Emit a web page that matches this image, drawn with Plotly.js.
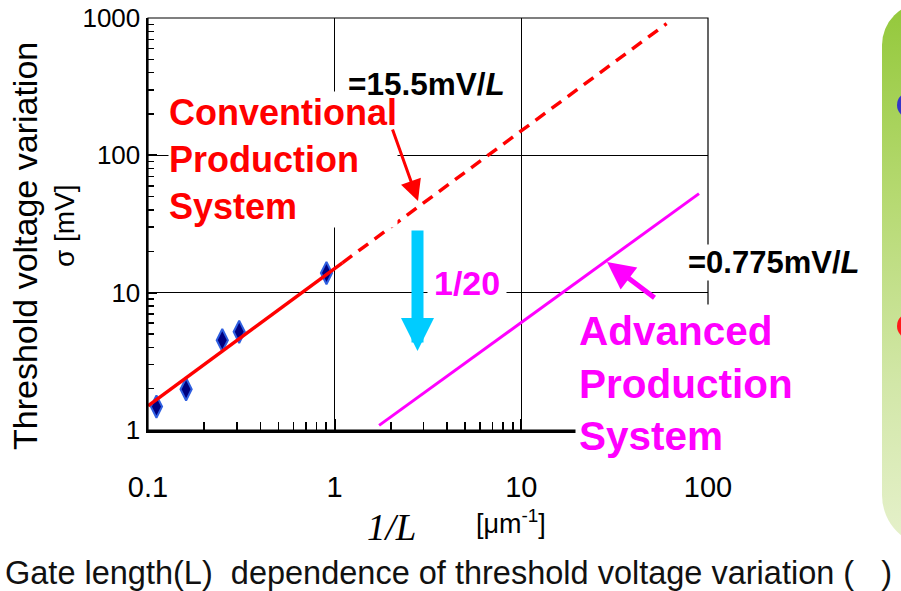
<!DOCTYPE html>
<html>
<head>
<meta charset="utf-8">
<script src="https://cdn.plot.ly/plotly-3.0.1.min.js"></script>
<style>
  html, body { margin: 0; padding: 0; background: #ffffff; overflow: hidden; }
  #wrap { position: relative; width: 901px; height: 591px; }
  #chart { position: absolute; left: 0; top: 0; width: 901px; height: 591px; }
  #panel { position: absolute; left: 882px; top: 3px; width: 60px; height: 544px;
           border-radius: 42px 0 0 52px;
           background: linear-gradient(to bottom, #93c83a 0%, #b5d970 35%, #d2e7a8 70%, #e6f1cc 100%); }
  .dot { position: absolute; width: 26px; height: 26px; border-radius: 50%; }
</style>
</head>
<body>
<div id="wrap">
  <div id="chart"></div>
  <div id="panel"></div>
  <div class="dot" style="left:897px; top:92px; background:#3535c8;"></div>
  <div class="dot" style="left:897px; top:313px; background:#ff1a1a;"></div>
</div>
<script>
// ---- data ----
const meas_inv_L = [0.111, 0.16, 0.25, 0.308, 0.904];      // 1/L [um^-1]
const meas_sigma = [1.48, 1.98, 4.51, 5.19, 13.9];          // sigma [mV]
const conv_fit_x = [0.1, 1.1];
const conv_fit_y = [1.5, 16.5];
const conv_ext_x = [1.1, 60];
const conv_ext_y = [16.5, 910];
const adv_x = [1.73, 89.5];
const adv_y = [1.08, 52.6];
const x_tick_vals = [0.1, 1, 10, 100];
const x_tick_text = ['0.1', '1', '10', '100'];
const y_tick_vals = [1, 10, 100, 1000];
const y_tick_text = ['1', '10', '100', '1000'];

function minorVals(lo, hi) {
  const out = [];
  for (let d = lo; d < hi; d *= 10) for (let k = 2; k <= 9; k++) out.push(+(k * d).toPrecision(3));
  return out;
}

// ---- layout helpers (pixel -> paper) ----
const L = 148, R = 708, T = 18, B = 430;
const px = X => (X - L) / (R - L);
const py = Y => (B - Y) / (B - T);
const SANS = 'Liberation Sans, Arial, sans-serif';

function txt(X, Y, text, font, extra) {
  return Object.assign({ xref: 'paper', yref: 'paper', x: px(X), y: py(Y), text: text,
    xanchor: 'center', yanchor: 'middle', showarrow: false, font: font }, extra || {});
}
function arrow(tipX, tipY, ax, ay, color, width, size) {
  return { xref: 'paper', yref: 'paper', x: px(tipX), y: py(tipY), ax: ax, ay: ay, text: '',
    xanchor: 'center', yanchor: 'middle',
    showarrow: true, arrowhead: 2, arrowsize: size, arrowwidth: width, arrowcolor: color };
}

const traces = [
  { x: meas_inv_L, y: meas_sigma, type: 'scatter', mode: 'markers',
    marker: { symbol: 'diamond-tall', size: 16, color: '#00007f', line: { color: '#2f5fe0', width: 2 } } },
  { x: conv_fit_x, y: conv_fit_y, type: 'scatter', mode: 'lines',
    line: { color: '#ff0000', width: 3.5 } },
  { x: conv_ext_x, y: conv_ext_y, type: 'scatter', mode: 'lines',
    line: { color: '#ff0000', width: 3.5, dash: '12px,8px' } },
  { x: adv_x, y: adv_y, type: 'scatter', mode: 'lines',
    line: { color: '#ff00ff', width: 3 } }
];

const layout = {
  width: 901, height: 591,
  margin: { l: L, r: 901 - R, t: T, b: 591 - B },
  paper_bgcolor: 'rgba(0,0,0,0)', plot_bgcolor: '#ffffff',
  showlegend: false,
  font: { family: SANS, color: '#000' },
  xaxis: {
    type: 'log', range: [-1, 2], tickmode: 'array', tickvals: x_tick_vals, ticktext: x_tick_text,
    ticks: 'inside', ticklen: 11, tickwidth: 2, tickcolor: '#000',
    showgrid: true, gridcolor: '#000', gridwidth: 1,
    showline: true, linecolor: '#000', linewidth: 2.5, zeroline: false,
    tickfont: { size: 29, family: SANS, color: '#000' }, ticklabelstandoff: 30,
    minor: { tickvals: minorVals(0.1, 100), ticks: 'inside', ticklen: 8, tickwidth: 1.5, tickcolor: '#000', showgrid: false }
  },
  yaxis: {
    type: 'log', range: [0, 3], tickmode: 'array', tickvals: y_tick_vals, ticktext: y_tick_text,
    ticks: 'inside', ticklen: 9, tickwidth: 2, tickcolor: '#000',
    showgrid: true, gridcolor: '#000', gridwidth: 1,
    showline: true, linecolor: '#000', linewidth: 2.5, zeroline: false,
    tickfont: { size: 26, family: SANS, color: '#000' },
    minor: { tickvals: minorVals(1, 1000), ticks: 'inside', ticklen: 6, tickwidth: 1.5, tickcolor: '#000', showgrid: false }
  },
  shapes: [
    { type: 'rect', xref: 'paper', yref: 'paper', x0: 0, x1: 1, y0: 0, y1: 1,
      line: { color: '#000', width: 1.2 }, layer: 'above' }
  ],
  annotations: [
    // y axis titles
    txt(25, 246, 'Threshold voltage variation', { size: 34, family: SANS, color: '#000' }, { textangle: -90 }),
    txt(64, 226, 'σ [mV]', { size: 28, family: SANS, color: '#000' }, { textangle: -90 }),
    // x axis titles
    txt(391, 527, '<i>1/L</i>', { size: 37, family: 'Liberation Serif, Times New Roman, serif', color: '#000' }),
    txt(511, 522, '[μm<sup>-1</sup>]', { size: 27, family: SANS, color: '#000' }),
    // caption
    txt(3, 573, 'Gate length(L)\u00a0 dependence of threshold voltage variation (\u00a0\u00a0\u00a0)',
        { size: 32.5, family: SANS, color: '#111' }, { xanchor: 'left' }),
    // conventional label
    txt(168, 160, '<b>Conventional<br>Production<br>System</b>', { size: 36, family: SANS, color: '#ff0000' },
        { xanchor: 'left', align: 'left', bgcolor: '#ffffff', borderpad: 0 }),
    txt(346, 84, '<b>=15.5mV/<i>L</i></b>', { size: 31.5, family: SANS, color: '#000' }, { xanchor: 'left' }),
    // red arrow
    arrow(418, 201, -26, -73, '#ff0000', 3, 1.4),
    // cyan arrow
    arrow(417.5, 351, 0, -122, '#00ccff', 12, 0.55),
    txt(467, 283, '<b>1/20</b>', { size: 34, family: SANS, color: '#ff00ff' }, { bgcolor: '#ffffff', borderpad: 6 }),
    // advanced label
    txt(687, 262, '<b>=0.775mV/<i>L</i></b>', { size: 31, family: SANS, color: '#000' },
        { xanchor: 'left', bgcolor: '#ffffff', borderpad: 0 }),
    txt(575, 383, '<b>Advanced<br>Production<br>System</b>', { size: 40.5, family: SANS, color: '#ff00ff' },
        { xanchor: 'left', align: 'left', bgcolor: '#ffffff', borderpad: 3 }),
    // magenta arrow
    arrow(607, 262, 49, 37, '#ff00ff', 5, 1.1)
  ]
};

Plotly.newPlot('chart', traces, layout, { displayModeBar: false, staticPlot: true });
</script>
</body>
</html>
